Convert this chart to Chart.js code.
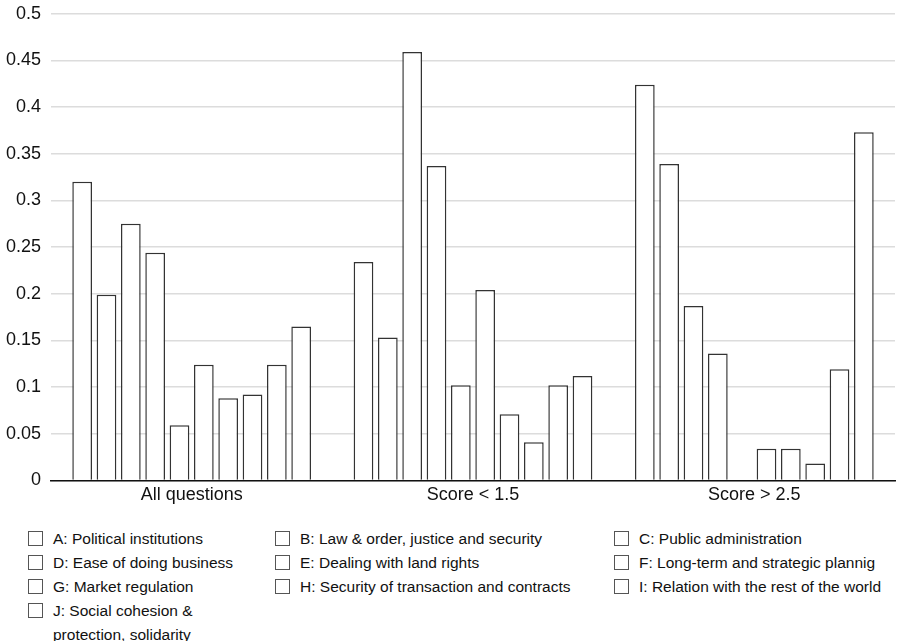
<!DOCTYPE html>
<html>
<head>
<meta charset="utf-8">
<script src="https://cdn.jsdelivr.net/npm/chart.js@4/dist/chart.umd.min.js"></script>
<style>
  body { margin: 0; background: #fff; font-family: "Liberation Sans", Arial, Helvetica, sans-serif; overflow: hidden; }
  #wrap { position: relative; width: 897px; height: 641px; overflow: hidden; }
  #chartBox { position: absolute; left: 0; top: -7px; width: 897px; height: 517px; }
  #legend {
    position: absolute; left: 28px; top: 527px;
    display: grid; grid-template-columns: 247px 339px 280px;
    font-size: 15.5px; color: #111; line-height: 24px;
  }
  .item { display: flex; align-items: flex-start; white-space: nowrap; }
  .box { width: 15px; height: 15px; border: 1px solid #555; box-sizing: border-box; margin-top: 4px; margin-right: 10px; flex: none; }
  .col1 .txt { width: 190px; white-space: normal; }
</style>
</head>
<body>
<div id="wrap">
  <div id="chartBox"><canvas id="barChart"></canvas></div>
  <div id="legend"></div>
</div>
<script>
// Categories along the x axis
const groups = ['All questions', 'Score < 1.5', 'Score > 2.5'];

// Series names (one bar per series in each group)
const seriesNames = [
    'A: Political institutions',
    'B: Law & order, justice and security',
    'C: Public administration',
    'D: Ease of doing business',
    'E: Dealing with land rights',
    'F: Long-term and strategic plannig',
    'G: Market regulation',
    'H: Security of transaction and contracts',
    'I: Relation with the rest of the world',
    'J: Social cohesion & protection, solidarity'
];

// Values per group, in series order A..J
const allQuestions = [0.32, 0.199, 0.275, 0.244, 0.059, 0.124, 0.088, 0.092, 0.124, 0.165];
const scoreBelow15 = [0.234, 0.153, 0.459, 0.337, 0.102, 0.204, 0.071, 0.041, 0.102, 0.112];
const scoreAbove25 = [0.424, 0.339, 0.187, 0.136, 0, 0.034, 0.034, 0.018, 0.119, 0.373];

// Y axis ticks
const yTicks = [0, 0.05, 0.1, 0.15, 0.2, 0.25, 0.3, 0.35, 0.4, 0.45, 0.5];

const fontFamily = '"Liberation Sans", Arial, Helvetica, sans-serif';

const datasets = seriesNames.map(function(name, i) {
    return {
        label: name,
        data: [allQuestions[i], scoreBelow15[i], scoreAbove25[i]],
        backgroundColor: '#ffffff',
        borderColor: '#333333',
        borderWidth: 1.5,
        borderSkipped: 'bottom',
        categoryPercentage: 0.865,
        barPercentage: 0.81
    };
});

const ctx = document.getElementById('barChart').getContext('2d');
new Chart(ctx, {
    type: 'bar',
    data: { labels: groups, datasets: datasets },
    options: {
        responsive: true,
        maintainAspectRatio: false,
        animation: false,
        layout: { padding: { top: 0, right: 2, left: 0, bottom: 0 } },
        plugins: {
            legend: { display: false },
            tooltip: { enabled: false }
        },
        scales: {
            y: {
                min: 0,
                max: 0.5,
                afterFit: function(scale) { scale.width = 51; },
                afterBuildTicks: function(scale) {
                    scale.ticks = yTicks.map(function(v) { return { value: v }; });
                },
                border: { display: false },
                grid: { color: '#dcdcdc', lineWidth: 1.5, drawTicks: false },
                ticks: {
                    padding: 10,
                    color: '#111',
                    font: { family: fontFamily, size: 18 },
                    callback: function(v) { return String(Number(v.toFixed(2))); }
                }
            },
            x: {
                grid: { display: false, drawTicks: false },
                border: { display: true, color: '#111', width: 1.5 },
                ticks: {
                    padding: 4,
                    color: '#111',
                    font: { family: fontFamily, size: 18 }
                }
            }
        }
    }
});

// HTML legend, three columns, row-major like the original
const legendEl = document.getElementById('legend');
seriesNames.forEach(function(name, i) {
    const item = document.createElement('div');
    item.className = 'item col' + (i % 3 + 1);
    const box = document.createElement('span');
    box.className = 'box';
    const txt = document.createElement('span');
    txt.className = 'txt';
    txt.textContent = name;
    item.appendChild(box);
    item.appendChild(txt);
    legendEl.appendChild(item);
});
</script>
</body>
</html>
